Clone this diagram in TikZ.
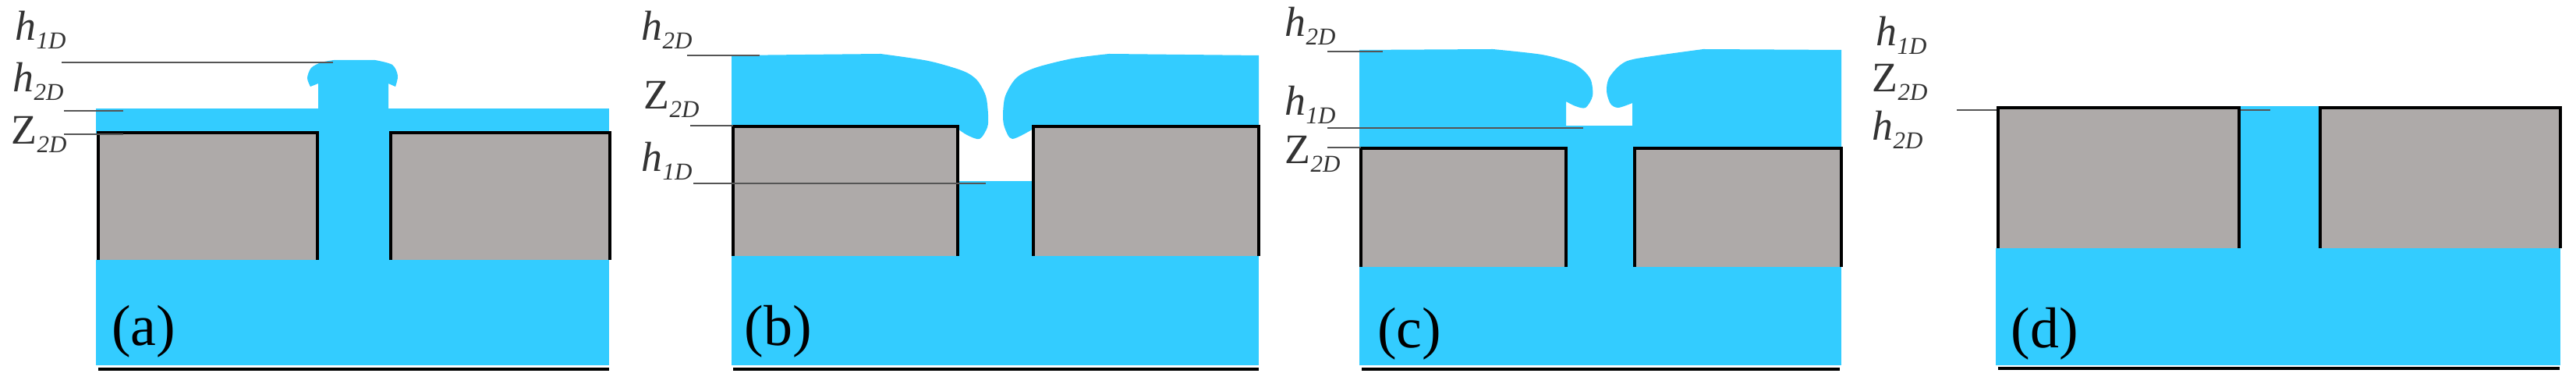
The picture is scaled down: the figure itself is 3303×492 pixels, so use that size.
\documentclass[tikz,border=0pt]{standalone}
\usepackage{fontspec}
\setmainfont{Liberation Serif}
\usepackage{tikz}

\definecolor{watercol}{HTML}{33CCFF}
\definecolor{blockcol}{HTML}{AEAAA9}
\definecolor{leadercol}{HTML}{555555}
\newcommand{\sublabel}[2]{#1{\fontsize{8.8}{8.8}\selectfont\raisebox{-3pt}{\textit{#2}}}}

\begin{document}
\begin{tikzpicture}[x=0.01cm,y=-0.01cm,
    water/.style={fill=watercol,draw=none},
    block node/.style={rectangle,fill=blockcol,anchor=north west,inner sep=0pt,outer sep=0pt},
    wall/.style={draw=black,line width=1pt},
    lid/.style={draw=black,line width=1.2pt},
    floor line/.style={draw=black,line width=1.4pt},
    leader/.style={draw=leadercol,line width=0.7pt},
    name node/.style={anchor=base west,inner sep=0pt,text=black!80,font=\fontsize{15.3}{15.3}\selectfont},
    tag node/.style={inner sep=0pt,font=\fontsize{21}{21}\selectfont}]
    \useasboundingbox (0,0) rectangle (3303,492);

    \fill[water] (123,333) rectangle (781,468);
    \fill[water] (123,139) rectangle (781,171);
    \fill[water] (407,170) rectangle (501,334);
    \fill[water] (408,140) -- (408,107) -- (398,111)
        -- plot[smooth] coordinates {(398,111) (394,100) (399,87) (412,80) (428,77)}
        -- (481,77)
        -- plot[smooth] coordinates {(481,77) (503,83) (510,97) (507,111)}
        -- (498,107) -- (498,140) -- cycle;

    \fill[water] (938,328) rectangle (1614,468);
    \fill[water] (1228,232) rectangle (1325,329);
    \fill[water] (938,71) -- (938,161) -- (1228,161)
        -- plot[smooth] coordinates {(1228,165) (1240,173) (1256,178) (1266,163) (1267,147) (1264,123) (1253,103) (1235,91) (1190,78) (1129,69)}
        -- cycle;
    \fill[water] (1614,71) -- (1614,161) -- (1325,161)
        -- plot[smooth] coordinates {(1325,165) (1298,178) (1288,163) (1286,147) (1289,123) (1303,100) (1327,87) (1375,75) (1422,69)}
        -- cycle;

    \fill[water] (1743,342) rectangle (2361,468);
    \fill[water] (2008,161) rectangle (2096,343);
    \fill[water] (1743,64) -- (1914,63)
        -- plot[smooth] coordinates {(1914,63) (1977,70) (2014,80) (2030,90) (2040,103) (2042,123) (2033,138) (2020,136) (2008,130)}
        -- (2008,162) -- (2093,162) -- (2093,132)
        -- plot[smooth] coordinates {(2093,132) (2075,138) (2065,133) (2060,117) (2063,100) (2078,83) (2099,75) (2184,63)}
        -- (2361,64) -- (2361,191) -- (1743,191) -- cycle;

    \fill[water] (2559,318) rectangle (3283,468);
    \fill[water] (2871,136) rectangle (2975,319);

    \coordinate (d1) at (2509,141);
    \coordinate (d2) at (2911,141);
    \path[leader] (d1) edge (d2);

    \node[block node,minimum width=2.81cm,minimum height=1.63cm] (al) at (126,170) {};
    \node[block node,minimum width=2.81cm,minimum height=1.63cm] (ar) at (501,170) {};
    \node[block node,minimum width=2.88cm,minimum height=1.66cm] (bl) at (940,162) {};
    \node[block node,minimum width=2.89cm,minimum height=1.66cm] (br) at (1325,162) {};
    \node[block node,minimum width=2.63cm,minimum height=1.52cm] (cl) at (1745,190) {};
    \node[block node,minimum width=2.65cm,minimum height=1.52cm] (cr) at (2096,190) {};
    \node[block node,minimum width=3.09cm,minimum height=1.80cm] (dl) at (2562,138) {};
    \node[block node,minimum width=3.08cm,minimum height=1.80cm] (dr) at (2975,138) {};

    \draw[wall] (al.south west) |- (al.north east) -- (al.south east)
        (ar.south west) |- (ar.north east) -- (ar.south east)
        (bl.south west) |- (bl.north east) -- (bl.south east)
        (br.south west) |- (br.north east) -- (br.south east)
        (cl.south west) |- (cl.north east) -- (cl.south east)
        (cr.south west) |- (cr.north east) -- (cr.south east)
        (dl.south west) |- (dl.north east) -- (dl.south east)
        (dr.south west) |- (dr.north east) -- (dr.south east);
    \draw[lid] (al.north west) -- (al.north east)
        (ar.north west) -- (ar.north east)
        (bl.north west) -- (bl.north east)
        (br.north west) -- (br.north east)
        (cl.north west) -- (cl.north east)
        (cr.north west) -- (cr.north east)
        (dl.north west) -- (dl.north east)
        (dr.north west) -- (dr.north east);

    \coordinate (f1) at (126,473);
    \coordinate (f2) at (781,473);
    \coordinate (f3) at (940,473);
    \coordinate (f4) at (1614,473);
    \coordinate (f5) at (1746,473);
    \coordinate (f6) at (2359,473);
    \coordinate (f7) at (2562,472);
    \coordinate (f8) at (3282,472);
    \path[floor line] (f1) edge (f2) (f3) edge (f4) (f5) edge (f6) (f7) edge (f8);

    \coordinate (a1) at (79,80);
    \coordinate (a2) at (427,80);
    \coordinate (a3) at (82,142);
    \coordinate (a4) at (158,142);
    \coordinate (a5) at (82,172);
    \coordinate (a6) at (158,172);
    \coordinate (b1) at (881,71);
    \coordinate (b2) at (974,71);
    \coordinate (b3) at (885,161);
    \coordinate (b4) at (940,161);
    \coordinate (b5) at (889,235);
    \coordinate (b6) at (1264,235);
    \coordinate (c1) at (1702,66);
    \coordinate (c2) at (1773,66);
    \coordinate (c3) at (1702,164);
    \coordinate (c4) at (2030,164);
    \coordinate (c5) at (1702,189);
    \coordinate (c6) at (1745,189);
    \path[leader] (a1) edge (a2) (a3) edge (a4) (a5) edge (a6)
        (b1) edge (b2) (b3) edge (b4) (b5) edge (b6)
        (c1) edge (c2) (c3) edge (c4) (c5) edge (c6);

    \node[name node] (ah1) at (19,52) {\sublabel{\textit{h}}{1D}};
    \node[name node] (ah2) at (16,118) {\sublabel{\textit{h}}{2D}};
    \node[name node] (az) at (14,185) {\sublabel{Z}{2D}};
    \node[name node] (bh2) at (822,52) {\sublabel{\textit{h}}{2D}};
    \node[name node] (bz) at (825,140) {\sublabel{Z}{2D}};
    \node[name node] (bh1) at (822,220) {\sublabel{\textit{h}}{1D}};
    \node[name node] (ch2) at (1647,47) {\sublabel{\textit{h}}{2D}};
    \node[name node] (ch1) at (1647,148) {\sublabel{\textit{h}}{1D}};
    \node[name node] (cz) at (1647,210) {\sublabel{Z}{2D}};
    \node[name node] (dh1) at (2405,59) {\sublabel{\textit{h}}{1D}};
    \node[name node] (dz) at (2400,118) {\sublabel{Z}{2D}};
    \node[name node] (dh2) at (2400,180) {\sublabel{\textit{h}}{2D}};

    \node[tag node] (atag) at (184,425) {(a)};
    \node[tag node] (btag) at (998,425) {(b)};
    \node[tag node] (ctag) at (1807,428) {(c)};
    \node[tag node] (dtag) at (2622,428) {(d)};
\end{tikzpicture}
\end{document}
